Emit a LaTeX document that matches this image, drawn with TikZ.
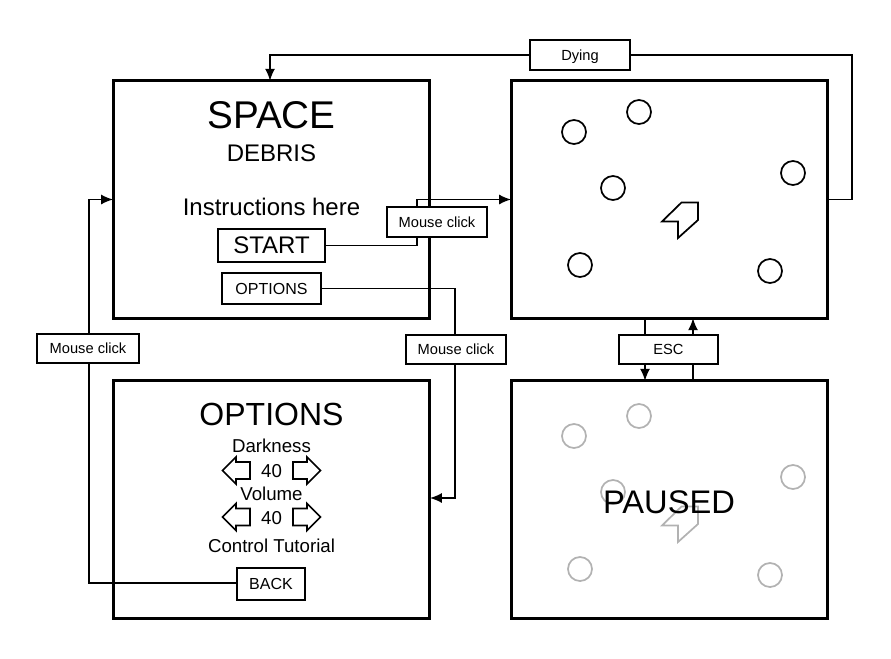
\documentclass[tikz,border=0pt]{standalone}
\usepackage{fontspec}
\setmainfont{Liberation Sans}
\usetikzlibrary{arrows.meta}
\tikzset{
	screen/.style={draw, line width=2.25pt, outer sep=0pt, minimum width=237.5pt, minimum height=178pt},
	btn/.style={draw, fill=white, line width=1.5pt, inner sep=0pt, text depth=0pt},
	link/.style={line width=1.3pt},
	linkarrow/.style={link, -{Latex[length=9pt, width=7.5pt]}},
	pics/field/.style={code={
		\foreach \x/\y in {574/132, 639/112, 613/188, 793/173, 580/265, 770/271} {
			\draw[#1, line width=1.3pt] (\x,\y) circle (12);
		}
		\draw[#1, line width=1.3pt, line join=miter] (662,221.5) -- (681.5,202.5) -- (698,202.5) -- (698,220) -- (678,238) -- (678,221.5) -- cycle;
	}},
	pics/spinner/.style={code={
		\draw[line width=1.3pt] (222.5,0) -- (236,-13.5) -- (236,-8.5) -- (250,-8.5) -- (250,8.5) -- (236,8.5) -- (236,13.5) -- cycle;
		\draw[line width=1.3pt] (320.5,0) -- (307,-13.5) -- (307,-8.5) -- (293,-8.5) -- (293,8.5) -- (307,8.5) -- (307,13.5) -- cycle;
	}}
}
\newcommand{\fs}[1]{\fontsize{#1}{#1}\selectfont}
\begin{document}
\begin{tikzpicture}[x=0.75pt, y=-0.75pt]
	\useasboundingbox (0,0) rectangle (891,658);
	
	% Screens
	\node[screen] (menu) at (271.5,199.5) {};
	\node[screen] (game) at (669.5,199.5) {};
	\node[screen] (options) at (271.5,499.5) {};
	\node[screen] (paused) at (669.5,499.5) {};
	
	% Title screen
	\node[font=\fs{29}] (spaceTxt) at (271.5,115) {SPACE};
	\node[font=\fs{18}] (debrisTxt) at (271.5,153) {DEBRIS};
	\node[font=\fs{18}] (helpTxt) at (271.5,207) {Instructions here};
	\node[btn, font=\fs{18}, minimum width=80pt, minimum height=24.5pt] (startBtn) at (271.5,245.5) {START};
	\node[btn, font=\fs{12}, minimum width=74pt, minimum height=23pt] (optionsBtn) at (271.5,288.5) {OPTIONS};
	
	% Options screen
	\node[font=\fs{24}] (optionsTxt) at (271.5,414) {OPTIONS};
	\node[font=\fs{14}] (darkTxt) at (271.5,446) {Darkness};
	\node[font=\fs{14}] (darkVal) at (271.5,471) {40};
	\node[font=\fs{14}] (volTxt) at (271.5,494) {Volume};
	\node[font=\fs{14}] (volVal) at (271.5,518) {40};
	\node[font=\fs{14}] (tutTxt) at (271.5,546) {Control Tutorial};
	\pic at (0,470.5) {spinner};
	\pic at (0,517) {spinner};
	\node[btn, font=\fs{12}, minimum width=51pt, minimum height=24pt] (backBtn) at (271,584) {BACK};
	
	% Game screen and its paused copy
	\pic at (0,0) {field=black};
	\pic at (0,304) {field=black!30};
	\node[font=\fs{24.5}] (pausedTxt) at (669,502) {PAUSED};
	
	% Labels on the connectors
	\node[btn, font=\fs{11}, minimum width=75pt, minimum height=22.5pt] (clickStart) at (437,222) {Mouse click};
	\node[btn, font=\fs{11}, minimum width=75pt, minimum height=22pt] (clickOptions) at (456,349.5) {Mouse click};
	\node[btn, font=\fs{11}, minimum width=76pt, minimum height=22pt] (clickBack) at (88,348.5) {Mouse click};
	\node[btn, font=\fs{11}, minimum width=75pt, minimum height=22.5pt] (dyingLbl) at (580,55) {Dying};
	\node[btn, font=\fs{11}, minimum width=74pt, minimum height=22pt] (escLbl) at (668.5,349.5) {ESC};
	
	% Connectors
	\coordinate (startBend) at (417,199.5);
	\draw[link] (startBtn.east) -| (clickStart.south -| startBend);
	\draw[linkarrow] (clickStart.north -| startBend) -- (startBend) -- (game.west);
	
	\coordinate (optionsBend) at (455,498);
	\draw[link] (optionsBtn.east) -| (clickOptions.north -| optionsBend);
	\draw[linkarrow] (clickOptions.south -| optionsBend) -- (optionsBend) -- (options.east |- optionsBend);
	
	\coordinate (backBend) at (89,583);
	\draw[link] (backBtn.west |- backBend) -- (backBend) -- (clickBack.south -| backBend);
	\coordinate (backTop) at (89,199.5);
	\draw[linkarrow] (clickBack.north -| backBend) -- (backTop) -- (menu.west);
	
	\coordinate (dyingBend) at (852,199.5);
	\draw[link] (game.east) -- (dyingBend) |- (dyingLbl.east);
	\coordinate (dyingEnd) at (270,55);
	\draw[linkarrow] (dyingLbl.west) -- (dyingEnd) -- (dyingEnd |- menu.north);
	
	\coordinate (escDown) at (645,0);
	\coordinate (escUp) at (693,0);
	\draw[link] (escDown |- game.south) -- (escDown |- escLbl.north);
	\draw[linkarrow] (escDown |- escLbl.south) -- (escDown |- paused.north);
	\draw[link] (escUp |- paused.north) -- (escUp |- escLbl.south);
	\draw[linkarrow] (escUp |- escLbl.north) -- (escUp |- game.south);
\end{tikzpicture}
\end{document}
